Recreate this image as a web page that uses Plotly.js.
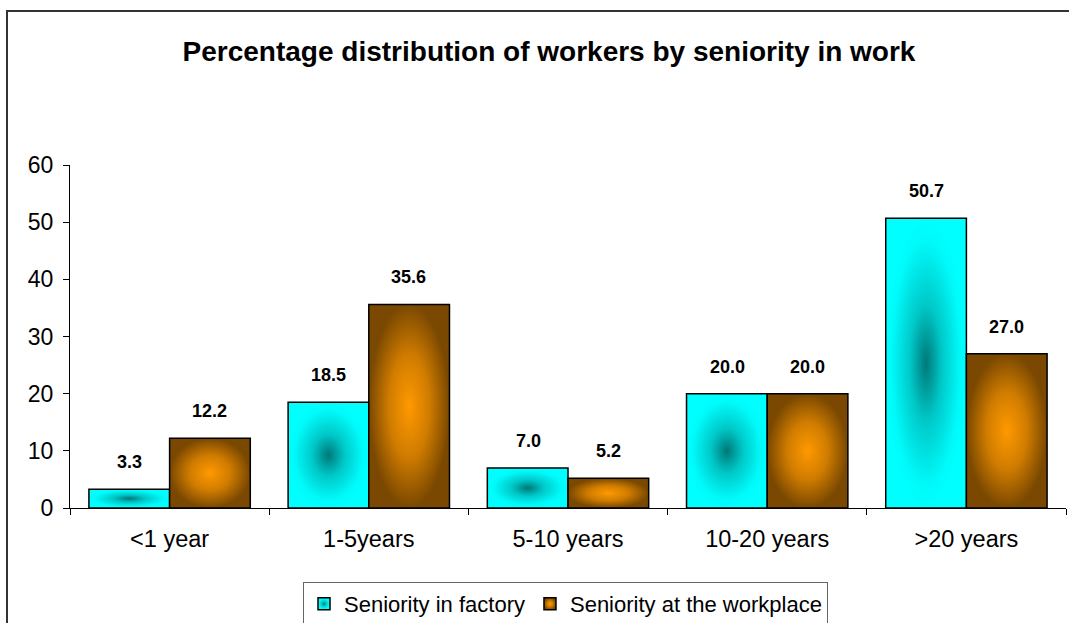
<!DOCTYPE html>
<html>
<head>
<meta charset="utf-8">
<script src="https://cdn.plot.ly/plotly-3.0.1.min.js"></script>
<style>
  html, body { margin: 0; padding: 0; background: #fff; overflow: hidden; }
  #wrap { position: relative; width: 1069px; height: 623px; }
  #chart { width: 1069px; height: 623px; }
  #frame { position: absolute; left: 6px; top: 10px; width: 1100px; height: 700px;
           border-left: 2px solid #333; border-top: 2px solid #333; pointer-events: none; }
</style>
</head>
<body>
<div id="wrap">
  <div id="chart"></div>
  <div id="frame"></div>
</div>
<script>
// ---- data ----
const categories = ["<1 year", "1-5years", "5-10 years", "10-20 years", ">20 years"];
const factoryValues = [3.3, 18.5, 7.0, 20.0, 50.7];
const workplaceValues = [12.2, 35.6, 5.2, 20.0, 27.0];
const seriesNames = ["Seniority in factory", "Seniority at the workplace"];
const chartTitle = "Percentage distribution of workers by seniority in work";

const FONT = "Liberation Sans, Arial, Helvetica, sans-serif";

const traces = [
  {
    type: "bar", name: seriesNames[0], x: categories, y: factoryValues,
    marker: { color: "#00dcdc", line: { color: "#000", width: 1.5 } },
    hoverinfo: "skip"
  },
  {
    type: "bar", name: seriesNames[1], x: categories, y: workplaceValues,
    marker: { color: "#c27400", line: { color: "#000", width: 1.5 } },
    hoverinfo: "skip"
  }
];

const annotations = [];
categories.forEach((c, i) => {
  annotations.push({ x: c, y: factoryValues[i], xref: "x", yref: "y", text: factoryValues[i].toFixed(1),
    showarrow: false, xshift: -40, yshift: 27, yanchor: "middle",
    font: { family: FONT, size: 18, color: "#000", weight: "bold" } });
  annotations.push({ x: c, y: workplaceValues[i], xref: "x", yref: "y", text: workplaceValues[i].toFixed(1),
    showarrow: false, xshift: 40, yshift: 27, yanchor: "middle",
    font: { family: FONT, size: 18, color: "#000", weight: "bold" } });
});

const layout = {
  width: 1069, height: 623,
  margin: { l: 70, r: 3, t: 165, b: 115 },
  paper_bgcolor: "rgba(0,0,0,0)", plot_bgcolor: "rgba(0,0,0,0)",
  font: { family: FONT, size: 22, color: "#000" },
  title: {
    text: "<b>" + chartTitle + "</b>",
    font: { family: FONT, size: 28, color: "#000" },
    xref: "container", x: 549 / 1069, xanchor: "center",
    yref: "container", y: 1 - 51 / 623, yanchor: "middle"
  },
  barmode: "group", bargap: 0.19, bargroupgap: 0,
  showlegend: true,
  legend: {
    orientation: "h",
    xref: "container", yref: "container",
    x: 303 / 1069, xanchor: "left",
    y: 1 - 582 / 623, yanchor: "top",
    bordercolor: "#666", borderwidth: 1, bgcolor: "#fff",
    font: { family: FONT, size: 22, color: "#000" },
    itemwidth: 30, traceorder: "normal"
  },
  xaxis: {
    type: "category", showgrid: false, zeroline: false,
    showline: true, linecolor: "#000", linewidth: 1,
    ticks: "outside", tickson: "boundaries", ticklen: 6, tickcolor: "#000",
    ticklabelstandoff: 10,
    tickfont: { family: FONT, size: 23.5, color: "#000" }
  },
  yaxis: {
    range: [0, 60], dtick: 10, showgrid: false, zeroline: false,
    showline: true, linecolor: "#000", linewidth: 1,
    ticks: "outside", ticklen: 6, tickcolor: "#000",
    ticklabelstandoff: 5,
    tickfont: { family: FONT, size: 23, color: "#000" }
  },
  annotations: annotations
};

function addGradients(gd) {
  const svg = gd.querySelector("svg.main-svg");
  if (!svg) return;
  const NS = "http://www.w3.org/2000/svg";
  let defs = svg.querySelector("defs");
  if (!defs) { defs = document.createElementNS(NS, "defs"); svg.insertBefore(defs, svg.firstChild); }
  function grad(id, stops) {
    const g = document.createElementNS(NS, "radialGradient");
    g.setAttribute("id", id);
    g.setAttribute("cx", "0.5"); g.setAttribute("cy", "0.5"); g.setAttribute("r", "0.5");
    stops.forEach(s => {
      const st = document.createElementNS(NS, "stop");
      st.setAttribute("offset", s[0]); st.setAttribute("stop-color", s[1]);
      g.appendChild(st);
    });
    defs.appendChild(g);
  }
  grad("gradCyan", [["0", "#007878"], ["0.4", "#00c8c8"], ["0.85", "#00fafa"], ["1", "#00ffff"]]);
  grad("gradOrange", [["0", "#ff9900"], ["0.5", "#d07c00"], ["1", "#7a4800"]]);
  const ids = ["gradCyan", "gradOrange"];
  gd.querySelectorAll(".barlayer .trace").forEach((t, i) => {
    t.querySelectorAll(".point path").forEach(p => { p.style.fill = "url(#" + ids[i % 2] + ")"; });
  });
  gd.querySelectorAll(".legend .traces").forEach((t, i) => {
    t.querySelectorAll(".legendpoints path").forEach(p => { p.style.fill = "url(#" + ids[i % 2] + ")"; });
  });
}

Plotly.newPlot("chart", traces, layout, { staticPlot: true, displayModeBar: false })
  .then(gd => addGradients(gd));
</script>
</body>
</html>
